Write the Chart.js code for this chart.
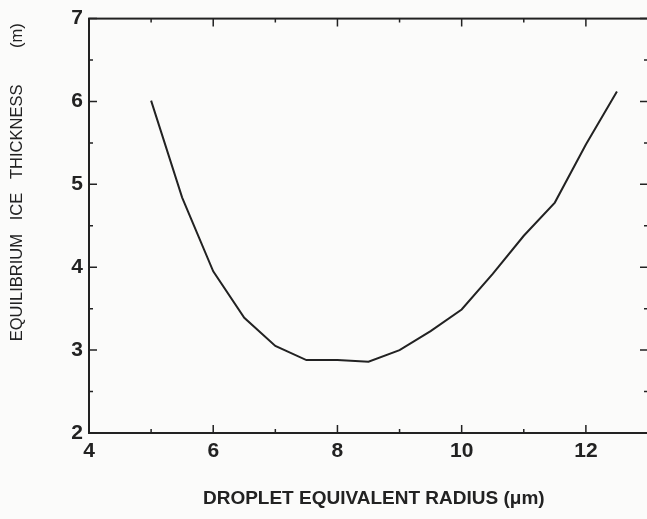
<!DOCTYPE html>
<html>
<head>
<meta charset="utf-8">
<script src="https://cdn.jsdelivr.net/npm/chart.js@4"></script>
<style>
  html, body { margin: 0; padding: 0; background: #fbfbfa; overflow: hidden; }
  #wrap { width: 652px; height: 519px; }
</style>
</head>
<body>
<div id="wrap"><canvas id="chart" width="652" height="519"></canvas></div>
<script>
// droplet radius (um) and equilibrium ice thickness (m)
const radius = [5, 5.5, 6, 6.5, 7, 7.5, 8, 8.5, 9, 9.5, 10, 10.5, 11, 11.5, 12, 12.5];
const thickness = [6.01, 4.84, 3.95, 3.39, 3.05, 2.88, 2.88, 2.86, 3.0, 3.23, 3.49, 3.92, 4.38, 4.78, 5.48, 6.12];

const xTicks = [4, 6, 8, 10, 12];
const yTicks = [2, 3, 4, 5, 6, 7];

const ink = '#222222';
const face = 'Liberation Sans, Arial, Helvetica, sans-serif';

// frame + inward tick marks on all four sides
const framePlugin = {
  id: 'frame',
  afterDraw(chart) {
    const ctx = chart.ctx;
    const a = chart.chartArea;
    const xs = chart.scales.x, ys = chart.scales.y;
    ctx.save();
    ctx.strokeStyle = ink;
    ctx.lineWidth = 2;
    ctx.strokeRect(a.left, a.top, a.right - a.left, a.bottom - a.top);
    ctx.lineWidth = 1.5;
    ctx.beginPath();
    for (let v = 4; v <= 13; v++) {
      const px = xs.getPixelForValue(v);
      const len = v % 2 === 0 ? 8 : 4;
      ctx.moveTo(px, a.bottom); ctx.lineTo(px, a.bottom - len);
      ctx.moveTo(px, a.top); ctx.lineTo(px, a.top + len);
    }
    for (let v = 2; v <= 7; v += 0.5) {
      const py = ys.getPixelForValue(v);
      const len = Number.isInteger(v) ? 8 : 4;
      ctx.moveTo(a.left, py); ctx.lineTo(a.left + len, py);
      ctx.moveTo(a.right, py); ctx.lineTo(a.right - len, py);
    }
    ctx.stroke();
    ctx.restore();
  }
};

new Chart(document.getElementById('chart'), {
  type: 'line',
  data: {
    datasets: [{
      data: radius.map((r, i) => ({ x: r, y: thickness[i] })),
      borderColor: ink,
      borderWidth: 2,
      pointRadius: 0,
      tension: 0,
      fill: false
    }]
  },
  options: {
    responsive: false,
    animation: false,
    layout: { padding: { top: 14, right: 4, left: 0, bottom: 0 } },
    plugins: { legend: { display: false }, tooltip: { enabled: false } },
    scales: {
      x: {
        type: 'linear',
        min: 4,
        max: 13,
        afterBuildTicks: s => { s.ticks = xTicks.map(v => ({ value: v })); },
        afterFit: s => { s.height = 86; },
        grid: { display: false, drawTicks: false },
        border: { display: false },
        ticks: {
          padding: 6,
          color: ink,
          font: { family: face, size: 21, weight: 'bold' }
        },
        title: {
          display: true,
          text: '  DROPLET EQUIVALENT RADIUS (\u03bcm)',
          color: ink,
          padding: { top: 0, bottom: 9 },
          font: { family: face, size: 19, weight: 'bold' }
        }
      },
      y: {
        type: 'linear',
        min: 2,
        max: 7,
        afterBuildTicks: s => { s.ticks = yTicks.map(v => ({ value: v })); },
        afterFit: s => { s.width = 89; },
        grid: { display: false, drawTicks: false },
        border: { display: false },
        ticks: {
          padding: 6,
          color: ink,
          font: { family: face, size: 21, weight: 'bold' }
        },
        title: {
          display: true,
          text: 'EQUILIBRIUM   ICE   THICKNESS        (m) ',
          align: 'end',
          color: ink,
          padding: { top: 8, bottom: 0 },
          font: { family: face, size: 16.5 }
        }
      }
    }
  },
  plugins: [framePlugin]
});
</script>
</body>
</html>
